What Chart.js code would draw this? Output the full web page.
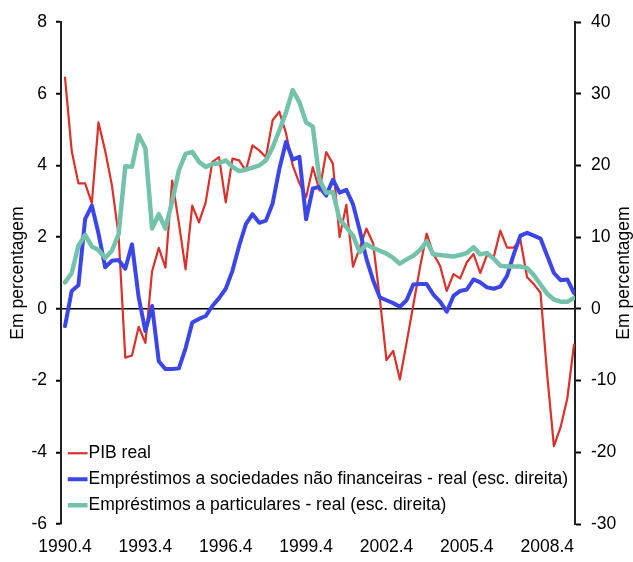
<!DOCTYPE html>
<html>
<head>
<meta charset="utf-8">
<script src="https://cdn.jsdelivr.net/npm/chart.js@4.4.1/dist/chart.umd.min.js"></script>
<style>
  html, body { margin: 0; padding: 0; background: #fff; }
  #wrap { position: relative; width: 633px; height: 562px; }
</style>
</head>
<body>
<div id="wrap"><canvas id="c"></canvas></div>
<script>
// Quarters 1990.4 ... 2009.4
const categories = [];
for (let y = 1990, q = 4; categories.length < 77; ) {
  categories.push(y + '.' + q);
  q++; if (q > 4) { q = 1; y++; }
}
const tickLabels = ['1990.4', '1993.4', '1996.4', '1999.4', '2002.4', '2005.4', '2008.4'];

const pibReal = [
  6.45, 4.4, 3.5, 3.5, 2.95, 5.2, 4.4, 3.45, 2.05, -1.36,
  -1.3, -0.5, -0.95, 1.05, 1.7, 1.15, 3.58, 2.4, 1.1, 2.88,
  2.41, 2.97, 4.1, 4.23, 2.97, 4.19, 4.14, 3.85, 4.56, 4.42,
  4.23, 5.26, 5.5, 4.9, 4.0, 3.5, 3.11, 3.95, 3.3, 4.37,
  4.05, 2.0, 2.9, 1.18, 1.7, 2.24, 1.83, 0.3, -1.43, -1.17,
  -1.97, -0.95, 0.1, 1.15, 2.1, 1.53, 1.2, 0.5, 0.97, 0.85,
  1.3, 1.53, 1.0, 1.5, 1.43, 2.18, 1.71, 1.71, 1.92, 0.88,
  0.69, 0.45, -1.85, -3.83, -3.3, -2.5, -1.0
];

const empSociedades = [
  -2.4, 2.5, 3.3, 12.5, 14.4, 10.5, 5.8, 6.7, 6.8, 5.6,
  9.0, 1.6, -3.1, 0.4, -7.3, -8.4, -8.4, -8.3, -5.5, -1.9,
  -1.4, -1.0, 0.4, 1.5, 2.8, 5.3, 8.8, 11.8, 13.2, 12.0,
  12.3, 14.7, 19.5, 23.3, 20.8, 21.2, 12.5, 16.8, 17.0, 15.8,
  18.0, 16.2, 16.6, 14.6, 11.0, 7.0, 4.0, 1.6, 1.2, 0.8,
  0.3, 1.2, 3.4, 3.45, 3.45, 2.0, 1.0, -0.4, 1.8, 2.5,
  2.7, 4.1, 3.7, 3.0, 2.8, 3.1, 4.6, 7.6, 10.2, 10.6,
  10.2, 9.8, 7.4, 5.0, 4.0, 4.1, 2.2
];

const empParticulares = [
  3.7, 5.0, 8.8, 10.3, 8.7, 8.2, 7.1, 8.1, 10.4, 19.9,
  19.8, 24.2, 22.4, 11.2, 13.2, 11.2, 15.0, 19.3, 21.6, 21.9,
  20.5, 19.8, 20.2, 20.3, 20.7, 19.8, 19.2, 19.4, 19.7, 20.0,
  20.7, 22.5, 24.9, 27.4, 30.5, 28.8, 26.0, 25.4, 18.0, 16.2,
  16.3, 12.5, 11.4, 10.2, 7.9, 9.0, 8.5, 8.1, 7.7, 7.1,
  6.3, 6.9, 7.4, 8.2, 9.4, 7.6, 7.5, 7.4, 7.3, 7.5,
  7.8, 8.6, 7.6, 7.8, 7.0, 6.0, 5.9, 5.9, 5.9, 5.7,
  4.7, 3.4, 2.1, 1.3, 1.0, 1.0, 1.5
];

const seriesNames = [
  'PIB real',
  'Empréstimos a sociedades não financeiras - real (esc. direita)',
  'Empréstimos a particulares - real (esc. direita)'
];
const axisTitle = 'Em percentagem';

const toXY = arr => arr.map((v, i) => ({ x: i, y: v }));

Chart.defaults.font.family = "'Liberation Sans', Arial, sans-serif";
Chart.defaults.font.size = 17.5;
Chart.defaults.color = '#000';

const rightTitlePlugin = {
  id: 'rightTitle',
  afterLayout(chart) {
    const lg = chart.legend;
    if (lg) {
      const h = lg.height, w = lg.width;
      lg.left = 67; lg.right = 67 + w;
      lg.top = 436; lg.bottom = 436 + h;
    }
  },
  afterDraw(chart) {
    const ctx = chart.ctx;
    const ca = chart.chartArea;
    ctx.save();
    ctx.font = "17.5px 'Liberation Sans', Arial, sans-serif";
    ctx.fillStyle = '#000';
    ctx.textAlign = 'center';
    ctx.textBaseline = 'middle';
    ctx.translate(624, (ca.top + ca.bottom) / 2);
    ctx.rotate(-Math.PI / 2);
    ctx.fillText(axisTitle, 0, 0);
    ctx.restore();
  }
};

new Chart(document.getElementById('c'), {
  type: 'line',
  data: {
    datasets: [
      { label: seriesNames[0], data: toXY(pibReal), yAxisID: 'yL',
        borderColor: '#d9312b', backgroundColor: '#d9312b', borderWidth: 2.2, order: 2 },
      { label: seriesNames[1], data: toXY(empSociedades), yAxisID: 'yR',
        borderColor: '#3c46e6', backgroundColor: '#3c46e6', borderWidth: 4, order: 1 },
      { label: seriesNames[2], data: toXY(empParticulares), yAxisID: 'yR',
        borderColor: '#74c2ab', backgroundColor: '#74c2ab', borderWidth: 4.5, order: 0 }
    ]
  },
  options: {
    responsive: true,
    maintainAspectRatio: false,
    devicePixelRatio: 1,
    animation: false,
    layout: { padding: { top: 22, left: 0, right: 0, bottom: 0 } },
    elements: {
      point: { radius: 0, hoverRadius: 0 },
      line: { tension: 0, borderJoinStyle: 'round', borderCapStyle: 'round' }
    },
    plugins: {
      tooltip: { enabled: false },
      legend: {
        position: 'chartArea',
        align: 'start',
        labels: {
          usePointStyle: true,
          pointStyle: 'line',
          boxWidth: 4.3,
          boxHeight: 14,
          padding: 8.5,
          color: '#000',
          font: { size: 17.5 },
          sort: (a, b) => a.datasetIndex - b.datasetIndex
        }
      }
    },
    scales: {
      x: {
        type: 'linear',
        position: 'bottom',
        min: -0.6,
        max: 76.15,
        afterFit: s => { s.height = 38; },
        afterBuildTicks: s => {
          s.ticks = tickLabels.map(l => ({ value: categories.indexOf(l) }));
        },
        grid: { display: false, drawTicks: false },
        border: { display: false },
        ticks: {
          autoSkip: false,
          maxRotation: 0,
          padding: 13,
          color: '#000',
          callback: v => categories[v]
        }
      },
      yL: {
        type: 'linear',
        position: 'left',
        min: -6,
        max: 8,
        afterFit: s => { s.width = 61; },
        ticks: { stepSize: 2, padding: 9, color: '#000' },
        grid: {
          drawOnChartArea: true,
          drawTicks: true,
          tickLength: 5,
          tickColor: '#000',
          tickWidth: 2,
          lineWidth: 1.5,
          color: c => (c.tick && c.tick.value === 0 ? '#000' : 'rgba(0,0,0,0)')
        },
        border: { display: true, color: '#222', width: 2 },
        title: { display: true, text: axisTitle, color: '#000', padding: { top: 8, bottom: 0 }, font: { size: 17.5 } }
      },
      yR: {
        type: 'linear',
        position: 'right',
        min: -30,
        max: 40,
        afterFit: s => { s.width = 58; },
        ticks: { stepSize: 10, padding: 10, color: '#000' },
        grid: {
          drawOnChartArea: false,
          drawTicks: true,
          tickLength: 6,
          tickColor: '#000',
          tickWidth: 2
        },
        border: { display: true, color: '#222', width: 2 }
      }
    }
  },
  plugins: [rightTitlePlugin]
});
</script>
</body>
</html>
